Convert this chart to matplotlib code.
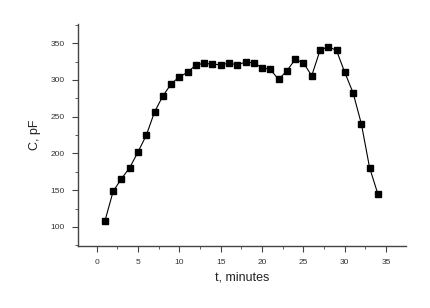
import matplotlib
matplotlib.use("Agg")
import matplotlib.pyplot as plt
from matplotlib.ticker import MultipleLocator

plt.rcParams['font.family'] = ['Liberation Sans', 'DejaVu Sans']

t_min = list(range(1, 35))
cap_pf = [108, 148.5, 165.6, 180.6, 201.9, 224.5, 256.3, 278, 294.3, 304.3,
          310.2, 320.5, 322.4, 321.5, 320.5, 322.8, 320.5, 324.2, 323.3, 316.5,
          314.2, 300.6, 312.4, 327.8, 323.3, 305.6, 340, 345.4, 340, 310.2,
          282.5, 240.4, 180.6, 144.8]

fig = plt.figure(figsize=(4.31, 3.08), dpi=100)
ax = fig.add_axes([0.180, 0.201, 0.762, 0.721])

ax.plot(t_min, cap_pf, color='black', linewidth=0.8, marker='s',
        markersize=3.8, markerfacecolor='black', markeredgecolor='black')

ax.set_xlim(-2.3, 37.4)
ax.set_ylim(74, 376)
ax.xaxis.set_major_locator(MultipleLocator(5))
ax.xaxis.set_minor_locator(MultipleLocator(2.5))
ax.yaxis.set_major_locator(MultipleLocator(50))
ax.yaxis.set_minor_locator(MultipleLocator(25))

for side in ['top', 'right']:
    ax.spines[side].set_visible(False)
for side in ['left', 'bottom']:
    ax.spines[side].set_color('#444444')
    ax.spines[side].set_linewidth(1.0)

ax.tick_params(which='major', direction='out', length=4, width=0.8,
               colors='#444444', labelsize=6, labelcolor='#333333', pad=5)
ax.tick_params(which='minor', direction='out', length=2, width=0.6,
               colors='#444444')

ax.set_xlabel('t, minutes', fontsize=9, color='#222222', labelpad=4)
ax.set_ylabel('C, pF', fontsize=9, color='#222222', labelpad=7)

fig.savefig('out.png', dpi=100)
